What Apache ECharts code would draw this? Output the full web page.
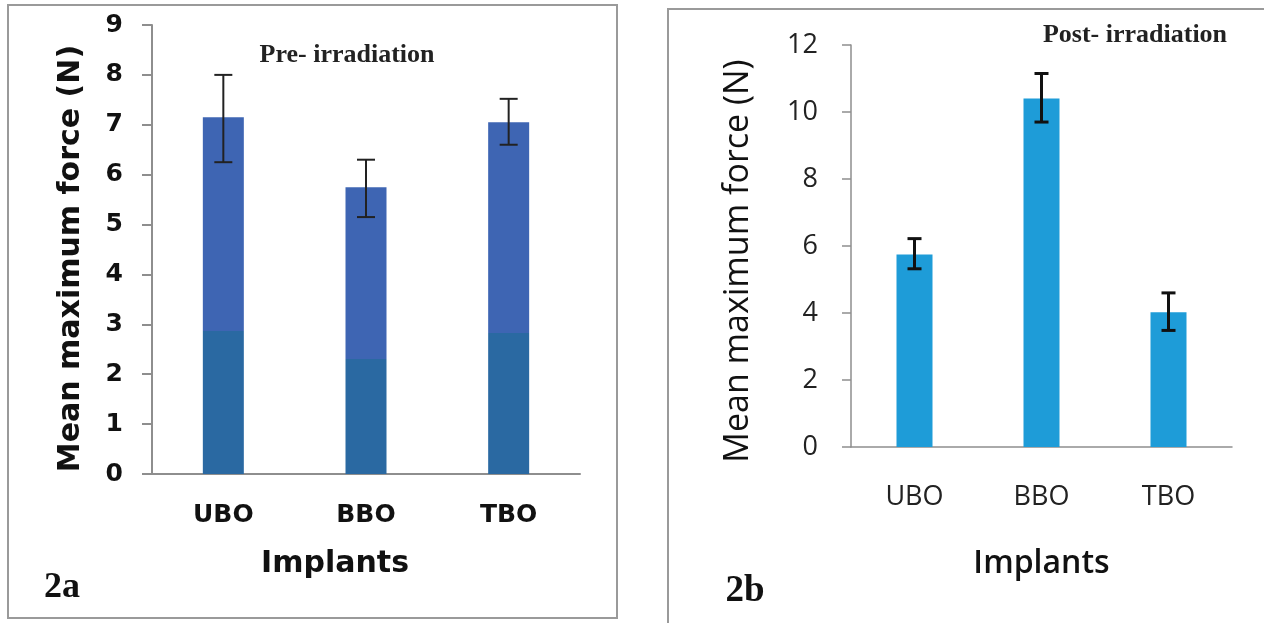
<!DOCTYPE html>
<html>
<head>
<meta charset="utf-8">
<script src="https://cdn.jsdelivr.net/npm/echarts@6/dist/echarts.min.js"></script>
<style>
  html, body { margin: 0; padding: 0; background: #fff; }
  #chart { width: 1264px; height: 623px; }
</style>
</head>
<body>
<div id="chart"></div>
<script>
// Implant groups
const implants = ['UBO', 'BBO', 'TBO'];

// Pre-irradiation: mean maximum force (N) with error-bar limits
const preMean = [7.15, 5.75, 7.05];
const preLow  = [6.25, 5.15, 6.60];
const preHigh = [8.00, 6.30, 7.52];

// Post-irradiation: mean maximum force (N) with error-bar limits
const postMean = [5.75, 10.40, 4.02];
const postLow  = [5.32, 9.70, 3.48];
const postHigh = [6.22, 11.15, 4.60];

// Axis tick settings
const preTicks = { min: 0, max: 9, interval: 1 };
const postTicks = { min: 0, max: 12, interval: 2 };

const heavy = 'DejaVu Sans';
const plain = 'Open Sans';

function errorBars(xAxisIndex, yAxisIndex, low, high, capHalf, width, color) {
  return {
    type: 'custom',
    xAxisIndex: xAxisIndex,
    yAxisIndex: yAxisIndex,
    z: 5,
    data: implants.map((c, i) => [i, low[i], high[i]]),
    renderItem: function (params, api) {
      const lo = api.coord([api.value(0), api.value(1)]);
      const hi = api.coord([api.value(0), api.value(2)]);
      const style = { stroke: color, lineWidth: width };
      return {
        type: 'group',
        children: [
          { type: 'line', shape: { x1: hi[0], y1: hi[1], x2: lo[0], y2: lo[1] }, style: style },
          { type: 'line', shape: { x1: hi[0] - capHalf, y1: hi[1], x2: hi[0] + capHalf, y2: hi[1] }, style: style },
          { type: 'line', shape: { x1: lo[0] - capHalf, y1: lo[1], x2: lo[0] + capHalf, y2: lo[1] }, style: style }
        ]
      };
    }
  };
}

const chart = echarts.init(document.getElementById('chart'), null, { renderer: 'canvas' });

chart.setOption({
  animation: false,
  backgroundColor: '#ffffff',
  grid: [
    { left: 152, top: 25, width: 428, height: 449 },
    { left: 851, top: 45, width: 381, height: 402 }
  ],
  xAxis: [
    {
      gridIndex: 0, type: 'category', data: implants,
      axisLine: { lineStyle: { color: '#8e8e8e', width: 2 } },
      axisTick: { show: false },
      axisLabel: { color: '#111', fontFamily: heavy, fontWeight: 'bold', fontSize: 25, margin: 29 },
      name: 'Implants', nameLocation: 'middle', nameGap: 75,
      nameTextStyle: { color: '#111', fontFamily: heavy, fontWeight: 'bold', fontSize: 30, padding: [0, 62, 0, 0] }
    },
    {
      gridIndex: 1, type: 'category', data: implants,
      axisLine: { lineStyle: { color: '#8e8e8e', width: 1.5 } },
      axisTick: { show: false },
      axisLabel: { color: '#222', fontFamily: plain, fontSize: 27, margin: 37 },
      name: 'Implants', nameLocation: 'middle', nameGap: 101,
      nameTextStyle: { color: '#111', fontFamily: plain, fontWeight: 600, fontSize: 32 }
    }
  ],
  yAxis: [
    {
      gridIndex: 0, type: 'value', min: preTicks.min, max: preTicks.max, interval: preTicks.interval,
      axisLine: { show: true, lineStyle: { color: '#8e8e8e', width: 2 } },
      axisTick: { show: true, length: 10, lineStyle: { color: '#8e8e8e', width: 2 } },
      splitLine: { show: false },
      axisLabel: { color: '#111', fontFamily: heavy, fontWeight: 'bold', fontSize: 25, margin: 29 },
      name: 'Mean maximum force (N)', nameLocation: 'middle', nameGap: 66,
      nameTextStyle: { color: '#111', fontFamily: heavy, fontWeight: 'bold', fontSize: 30, padding: [0, 18, 0, 0] }
    },
    {
      gridIndex: 1, type: 'value', min: postTicks.min, max: postTicks.max, interval: postTicks.interval,
      axisLine: { show: true, lineStyle: { color: '#8e8e8e', width: 1.5 } },
      axisTick: { show: true, length: 9, lineStyle: { color: '#8e8e8e', width: 1.5 } },
      splitLine: { show: false },
      axisLabel: { color: '#222', fontFamily: plain, fontSize: 27, margin: 33 },
      name: 'Mean maximum force (N)', nameLocation: 'middle', nameGap: 96,
      nameTextStyle: { color: '#111', fontFamily: plain, fontSize: 34, padding: [0, 30, 0, 0] }
    }
  ],
  series: [
    {
      type: 'bar', xAxisIndex: 0, yAxisIndex: 0, data: preMean, barWidth: 41,
      itemStyle: {
        color: {
          type: 'linear', x: 0, y: 0, x2: 0, y2: 1,
          colorStops: [
            { offset: 0, color: '#3e65b3' },
            { offset: 0.6, color: '#3e65b3' },
            { offset: 0.6, color: '#2a69a2' },
            { offset: 1, color: '#2a69a2' }
          ]
        }
      }
    },
    errorBars(0, 0, preLow, preHigh, 9, 2, '#222'),
    {
      type: 'bar', xAxisIndex: 1, yAxisIndex: 1, data: postMean, barWidth: 36,
      itemStyle: { color: '#1e9cd8' }
    },
    errorBars(1, 1, postLow, postHigh, 7, 3, '#111')
  ],
  graphic: [
    { type: 'rect', shape: { x: 8, y: 5, width: 609, height: 613 }, style: { fill: 'none', stroke: '#9a9a9a', lineWidth: 2 } },
    { type: 'rect', shape: { x: 668, y: 9, width: 640, height: 660 }, style: { fill: 'none', stroke: '#9a9a9a', lineWidth: 2 } },
    { type: 'text', x: 347, y: 55, style: { text: 'Pre- irradiation', font: 'bold 26px "Liberation Serif"', fill: '#222', align: 'center', verticalAlign: 'middle' } },
    { type: 'text', x: 1135, y: 35, style: { text: 'Post- irradiation', font: 'bold 26px "Liberation Serif"', fill: '#222', align: 'center', verticalAlign: 'middle' } },
    { type: 'text', x: 62, y: 588, style: { text: '2a', font: 'bold 36px "Liberation Serif"', fill: '#111', align: 'center', verticalAlign: 'middle' } },
    { type: 'text', x: 745, y: 591, style: { text: '2b', font: 'bold 37px "Liberation Serif"', fill: '#111', align: 'center', verticalAlign: 'middle' } }
  ]
});
</script>
</body>
</html>
